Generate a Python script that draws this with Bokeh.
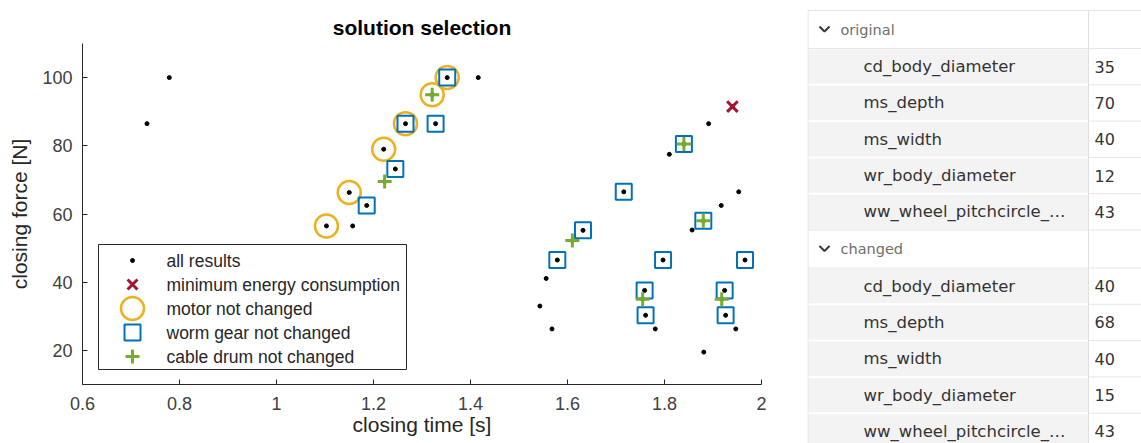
from bokeh.plotting import figure
from bokeh.models import Range1d, FixedTicker, CustomJSTickFormatter
from bokeh.core.properties import value
from bokeh.embed import file_html
from bokeh.resources import INLINE

# ---------------- data ----------------
all_time = [0.733, 0.779, 1.416, 1.157, 1.103, 1.150, 1.221, 1.266, 1.328, 1.352,
            1.186, 1.245, 1.223, 1.321, 1.940, 1.891, 1.810, 1.840, 1.716, 1.953,
            1.917, 1.880, 1.857, 1.632, 1.610, 1.579, 1.797, 1.966, 1.556, 1.759,
            1.755, 1.924, 1.918, 1.543, 1.761, 1.926, 1.568, 1.781, 1.947, 1.881]
all_force = [86.5, 100, 100, 56.5, 56.5, 66.3, 79.0, 86.5, 86.5, 100,
             62.5, 73.2, 69.5, 95.0, 91.5, 86.5, 77.5, 80.5, 66.5, 66.5,
             62.5, 58.0, 55.3, 55.2, 52.2, 46.5, 46.5, 46.5, 41.1, 37.6,
             35.0, 37.6, 35.0, 33.0, 30.3, 30.3, 26.3, 26.3, 26.3, 19.5]

min_time = [1.940]
min_force = [91.5]

motor_time = [1.103, 1.150, 1.221, 1.266, 1.321, 1.352]
motor_force = [56.5, 66.3, 79.0, 86.5, 95.0, 100]

worm_time = [1.186, 1.245, 1.266, 1.328, 1.352, 1.840, 1.716, 1.880,
             1.632, 1.579, 1.797, 1.966, 1.759, 1.924, 1.761, 1.926]
worm_force = [62.5, 73.2, 86.5, 86.5, 100, 80.5, 66.5, 58.0,
              55.2, 46.5, 46.5, 46.5, 37.6, 37.6, 30.3, 30.3]

drum_time = [1.223, 1.321, 1.840, 1.880, 1.610, 1.755, 1.918]
drum_force = [69.5, 95.0, 80.5, 58.0, 52.2, 35.0, 35.0]

x_ticks = [0.6, 0.8, 1.0, 1.2, 1.4, 1.6, 1.8, 2.0]
y_ticks = [20, 40, 60, 80, 100]

legend_labels = ["all results", "minimum energy consumption", "motor not changed",
                 "worm gear not changed", "cable drum not changed"]

groups = ["original", "changed"]
param_names = ["cd_body_diameter", "ms_depth", "ms_width", "wr_body_diameter",
               "ww_wheel_pitchcircle_\u2026"]
original_values = [35, 70, 40, 12, 43]
changed_values = [40, 68, 40, 15, 43]

# ---------------- styles ----------------
FONT = "Liberation Sans"
C_ORANGE = "#EDB120"
C_BLUE = "#0072BD"
C_GREEN = "#77AC30"
C_RED = "#A2142F"
AX = "#262626"

FIG_W, FIG_H = 807, 443
FRAME_W, FRAME_H = 679, 341

p = figure(width=FIG_W, height=FIG_H, x_range=Range1d(0.6, 2.0), y_range=Range1d(10, 110),
           output_backend="svg", toolbar_location=None,
           min_border_left=82, min_border_right=FIG_W - 82 - FRAME_W,
           min_border_top=43, min_border_bottom=FIG_H - 43 - FRAME_H,
           title="solution selection")
p.outline_line_color = None
p.grid.visible = False
p.background_fill_color = "white"
p.title.align = "center"
p.title.text_font = FONT
p.title.text_font_size = "21px"
p.title.text_font_style = "bold"
p.title.text_color = "#000000"

for ax in (p.xaxis[0], p.yaxis[0]):
    ax.axis_line_color = AX
    ax.major_tick_line_color = AX
    ax.major_tick_in = 5
    ax.major_tick_out = 0
    ax.minor_tick_line_color = None
    ax.major_label_text_font = FONT
    ax.major_label_text_font_size = "18px"
    ax.major_label_text_color = "#404040"
    ax.axis_label_text_font = FONT
    ax.axis_label_text_font_size = "21px"
    ax.axis_label_text_font_style = "normal"
    ax.axis_label_text_color = "#262626"

p.xaxis.ticker = FixedTicker(ticks=x_ticks)
p.xaxis.formatter = CustomJSTickFormatter(code="return Number(tick.toFixed(1)).toString();")
p.xaxis.axis_label = "closing time [s]"
p.xaxis.major_label_standoff = 12
p.xaxis.axis_label_standoff = 0

p.yaxis.ticker = FixedTicker(ticks=y_ticks)
p.yaxis.axis_label = "closing force [N]"
p.yaxis.major_label_standoff = 10
p.yaxis.axis_label_standoff = 8

# scatter layers
p.scatter(all_time, all_force, marker="circle", size=4, fill_color="black", line_color="black")
p.scatter(min_time, min_force, marker="x", size=15, line_color=C_RED, line_width=3)
p.scatter(motor_time, motor_force, marker="circle", size=23, fill_color=None,
          line_color=C_ORANGE, line_width=2.5)
p.scatter(worm_time, worm_force, marker="square", size=16, fill_color=None,
          line_color=C_BLUE, line_width=2)
p.scatter(drum_time, drum_force, marker="cross", size=14, line_color=C_GREEN, line_width=3)

# ---------------- legend (drawn in frame pixel coordinates) ----------------
p.extra_x_ranges = {"px": Range1d(0, FRAME_W)}
p.extra_y_ranges = {"py": Range1d(0, FRAME_H)}
leg_left, leg_right, leg_bottom, leg_top = 16, 324, 15, 140
p.quad(left=[leg_left], right=[leg_right], bottom=[leg_bottom], top=[leg_top],
       fill_color="white", line_color=AX, line_width=1,
       x_range_name="px", y_range_name="py")
row_y = [leg_top - 16 - 24 * i for i in range(len(legend_labels))]
mx = 50
p.scatter([mx], [row_y[0]], marker="circle", size=4, fill_color="black", line_color="black",
          x_range_name="px", y_range_name="py")
p.scatter([mx], [row_y[1]], marker="x", size=14, line_color=C_RED, line_width=3,
          x_range_name="px", y_range_name="py")
p.scatter([mx], [row_y[2]], marker="circle", size=23, fill_color=None, line_color=C_ORANGE,
          line_width=2.5, x_range_name="px", y_range_name="py")
p.scatter([mx], [row_y[3]], marker="square", size=16, fill_color=None, line_color=C_BLUE,
          line_width=2, x_range_name="px", y_range_name="py")
p.scatter([mx], [row_y[4]], marker="cross", size=14, line_color=C_GREEN, line_width=3,
          x_range_name="px", y_range_name="py")
p.text(x=[84] * len(legend_labels), y=row_y, text=legend_labels,
       text_font=value(FONT), text_font_size="17.5px", text_color="#262626",
       text_baseline="middle", text_align="left", x_range_name="px", y_range_name="py")

# ---------------- table panel ----------------
TW, TH = 1141 - FIG_W, FIG_H
t = figure(width=TW, height=TH, x_range=Range1d(0, TW), y_range=Range1d(TH, 0),
           output_backend="svg", toolbar_location=None, min_border=0,
           x_axis_location=None, y_axis_location=None)
t.grid.visible = False
t.outline_line_color = None
t.background_fill_color = "white"

TFONT = "DejaVu Sans"
HEADER_H, ROW_H = 38, 36.3
VAL_X = 281
top = 10.0
hdr_tops, row_tops, row_names, row_vals = [], [], [], []
for g, vals in zip(groups, [original_values, changed_values]):
    hdr_tops.append(top)
    top += HEADER_H
    for n, v in zip(param_names, vals):
        row_tops.append(top)
        row_names.append(n)
        row_vals.append(str(v))
        top += ROW_H

# data rows grey background in name area
t.quad(left=[1] * len(row_tops), right=[VAL_X] * len(row_tops),
       top=[rt + 1 for rt in row_tops], bottom=[rt + ROW_H - 1 for rt in row_tops],
       fill_color="#f3f3f3", line_color=None)
# horizontal lines
all_tops = sorted(hdr_tops + row_tops) + [top]
t.segment(x0=[VAL_X] * len(all_tops), x1=[TW] * len(all_tops), y0=all_tops, y1=all_tops,
          line_color="#e6e6e6", line_width=1)
t.segment(x0=[0] * len(hdr_tops), x1=[VAL_X] * len(hdr_tops), y0=hdr_tops, y1=hdr_tops,
          line_color="#e3e3e3", line_width=1)
t.segment(x0=[0] * len(hdr_tops), x1=[VAL_X] * len(hdr_tops),
          y0=[h + HEADER_H for h in hdr_tops], y1=[h + HEADER_H for h in hdr_tops],
          line_color="#e6e6e6", line_width=1)
# vertical lines
t.segment(x0=[0.5, VAL_X], x1=[0.5, VAL_X], y0=[10, 10], y1=[TH, TH],
          line_color="#e0e0e0", line_width=1)

# chevrons
for h in hdr_tops:
    cy = h + HEADER_H / 2
    t.line(x=[12, 17, 22], y=[cy - 3, cy + 2, cy - 3], line_color="#383838", line_width=2)

t.text(x=[33] * len(groups), y=[h + HEADER_H / 2 for h in hdr_tops], text=groups,
       text_font=value(TFONT), text_font_size="14.5px", text_color="#6e6e6e",
       text_baseline="middle", text_align="left")
t.text(x=[56] * len(row_names), y=[rt + ROW_H / 2 for rt in row_tops], text=row_names,
       text_font=value(TFONT), text_font_size="16.5px", text_color="#333333",
       text_baseline="middle", text_align="left")
t.text(x=[VAL_X + 6] * len(row_vals), y=[rt + ROW_H / 2 for rt in row_tops], text=row_vals,
       text_font=value(TFONT), text_font_size="16px", text_color="#333333",
       text_baseline="middle", text_align="left")

# two independent roots placed side by side (no frame alignment between them)
side_by_side = ("{% block postamble %}<style>body { display: flex !important; "
                "flex-direction: row; align-items: flex-start; margin: 0; }</style>{% endblock %}")
open("out.html", "w").write(file_html([p, t], INLINE, template=side_by_side))
